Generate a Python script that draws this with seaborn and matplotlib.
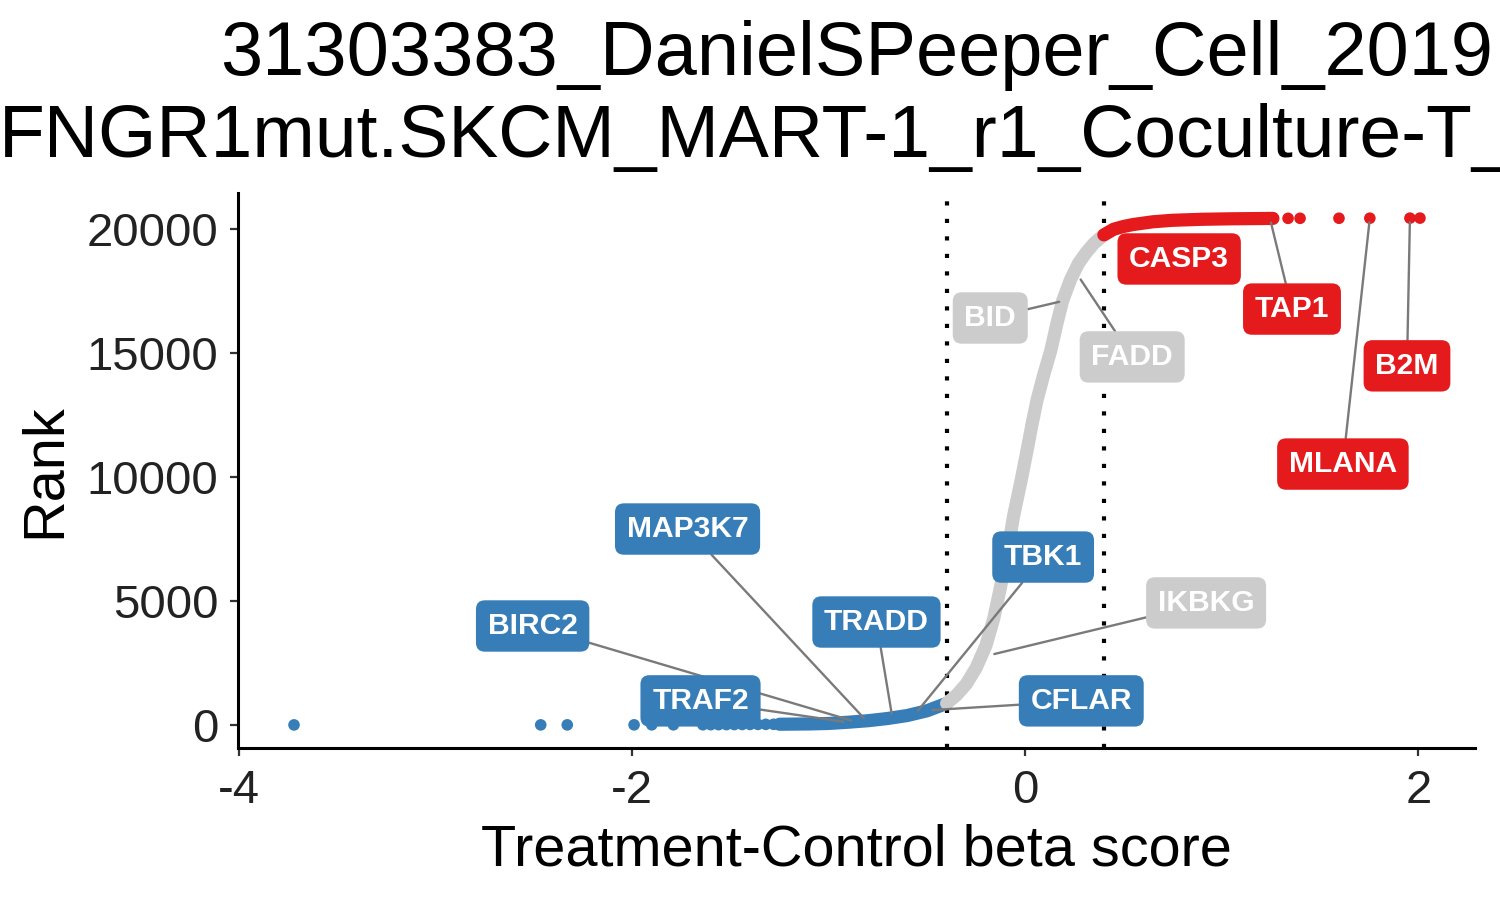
import matplotlib
matplotlib.use("Agg")
import matplotlib.pyplot as plt
import seaborn as sns
import pandas as pd

# ---------------- data ----------------
title_line1 = "31303383_DanielSPeeper_Cell_2019"
title_line2 = "FNGR1mut.SKCM_MART-1_r1_Coculture-T_"
x_label = "Treatment-Control beta score"
y_label = "Rank"
x_ticks = [-4, -2, 0, 2]
y_ticks = [0, 5000, 10000, 15000, 20000]
cutoff = 0.4

# isolated low-score genes (blue dots)
blue_dot_beta = [-3.72, -2.465, -2.33, -1.99, -1.90, -1.79, -1.64, -1.60, -1.56,
                 -1.52, -1.48, -1.44, -1.40, -1.36, -1.32, -1.28]
blue_dot_rank = [1, 2, 3, 4, 5, 6, 8, 10, 12, 14, 16, 18, 20, 22, 24, 26]

# dense ranked curve, read along the band
blue_curve_beta = [-1.25, -1.1, -1.0, -0.9, -0.8, -0.7, -0.6, -0.5, -0.4]
blue_curve_rank = [28, 40, 60, 110, 170, 260, 380, 570, 870]

grey_curve_beta = [-0.4, -0.35, -0.3, -0.25, -0.2, -0.16, -0.13, -0.09, -0.06, -0.02,
                   0.01, 0.035, 0.06, 0.095, 0.13, 0.16, 0.19, 0.23, 0.27, 0.31,
                   0.35, 0.4]
grey_curve_rank = [870, 1200, 1650, 2300, 3200, 4300, 5400, 7000, 8400, 9900,
                   11100, 12150, 13100, 14150, 15100, 16150, 17100, 17950, 18600, 19050,
                   19420, 19760]

red_curve_beta = [0.4, 0.45, 0.5, 0.55, 0.65, 0.75, 0.9, 1.05, 1.26]
red_curve_rank = [19760, 19990, 20100, 20180, 20290, 20350, 20390, 20410, 20425]

red_dot_beta = [1.337, 1.398, 1.596, 1.753, 1.957, 2.008]
red_dot_rank = [20428, 20430, 20432, 20434, 20436, 20438]

# labelled genes
genes = ["CASP3", "TAP1", "B2M", "MLANA", "BID", "FADD", "IKBKG",
         "TBK1", "CFLAR", "TRADD", "MAP3K7", "BIRC2", "TRAF2"]
gene_beta = [0.52, 1.245, 1.957, 1.753, 0.193, 0.27, -0.178,
             -0.559, -0.493, -0.676, -0.808, -0.864, -0.905]
gene_rank = [20140, 20420, 20436, 20434, 17100, 18100, 2820,
             450, 590, 285, 165, 130, 108]
gene_group = ["up", "up", "up", "up", "none", "none", "none",
              "down", "down", "down", "down", "down", "down"]

# label box positions (layout)
label_pos = {
    "CASP3": (0.783, 18790), "TAP1": (1.357, 16770), "B2M": (1.942, 14480),
    "MLANA": (1.616, 10520), "BID": (-0.178, 16410), "FADD": (0.544, 14840),
    "IKBKG": (0.920, 4920), "TBK1": (0.091, 6770), "CFLAR": (0.285, 970),
    "TRADD": (-0.757, 4150), "MAP3K7": (-1.718, 7900), "BIRC2": (-2.506, 3990),
    "TRAF2": (-1.652, 970),
}
no_segment = {"CASP3"}

colors = {"down": "#377EB8", "up": "#E41A1C", "none": "#CCCCCC"}

# ---------------- plot ----------------
sns.set_theme(style="ticks")
plt.rcParams["font.family"] = ["Liberation Sans", "DejaVu Sans"]
plt.rcParams["text.color"] = "black"

fig = plt.figure(figsize=(15, 9), dpi=100)
ax = fig.add_axes([238 / 1500, 1 - 748 / 900, (1475 - 238) / 1500, (748 - 193) / 900])

lw_band = 9.5
dot_s = 70

for b, r, key in [(blue_curve_beta, blue_curve_rank, "down"),
                  (grey_curve_beta, grey_curve_rank, "none"),
                  (red_curve_beta, red_curve_rank, "up")]:
    df = pd.DataFrame({"beta": b, "rank": r})
    sns.lineplot(data=df, x="beta", y="rank", sort=False, estimator=None,
                 color=colors[key], lw=lw_band, ax=ax, zorder=2,
                 solid_capstyle="round", solid_joinstyle="round")

sns.scatterplot(x=blue_dot_beta, y=blue_dot_rank, color=colors["down"], s=dot_s,
                edgecolor="none", ax=ax, zorder=3)
sns.scatterplot(x=red_dot_beta, y=red_dot_rank, color=colors["up"], s=dot_s,
                edgecolor="none", ax=ax, zorder=3)

for xv in (-cutoff, cutoff):
    ax.axvline(xv, color="black", lw=3, dashes=(1, 3.2), dash_capstyle="butt", zorder=1)

for g, b, r, grp in zip(genes, gene_beta, gene_rank, gene_group):
    lx, ly = label_pos[g]
    arrow = None
    if g not in no_segment:
        arrow = dict(arrowstyle="-", color="#7a7a7a", lw=1.7, shrinkA=0, shrinkB=3)
    ax.annotate(g, xy=(b, r), xytext=(lx, ly), ha="center", va="center",
                fontsize=21.6, fontweight="bold", color="white",
                bbox=dict(boxstyle="round,pad=0.39,rounding_size=0.3",
                          fc=colors[grp], ec="none"),
                arrowprops=arrow, zorder=5)

ax.set_xlim(-4.005, 2.288)
ax.set_ylim(-930, 21450)
ax.set_xticks(x_ticks)
ax.set_xticklabels([str(t) for t in x_ticks])
ax.set_yticks(y_ticks)
ax.set_yticklabels([str(t) for t in y_ticks])
sns.despine(ax=ax)
for sp in ("left", "bottom"):
    ax.spines[sp].set_linewidth(2.2)
    ax.spines[sp].set_color("black")
ax.tick_params(axis="both", length=6, width=1.6, color="#333333",
               labelsize=34, labelcolor="#222222")
ax.tick_params(axis="y", pad=8)
ax.tick_params(axis="x", pad=9)

ax.set_xlabel(x_label, fontsize=41.5, color="black")
ax.xaxis.set_label_coords(0.5, -0.2126)
ax.xaxis.label.set_va("baseline")
ax.set_ylabel(y_label, fontsize=41.5, color="black")
ax.yaxis.set_label_coords(-0.1439, 0.5)
ax.yaxis.label.set_rotation_mode("anchor")
ax.yaxis.label.set_ha("center")
ax.yaxis.label.set_va("baseline")

fig.text(857 / 1500, 1 - 75 / 900, title_line1, ha="center", va="baseline",
         fontsize=54.5, color="black")
fig.text(-1 / 1500, 1 - 157 / 900, title_line2, ha="left", va="baseline",
         fontsize=54, color="black")

fig.savefig("out.png", dpi=100, facecolor="white")
